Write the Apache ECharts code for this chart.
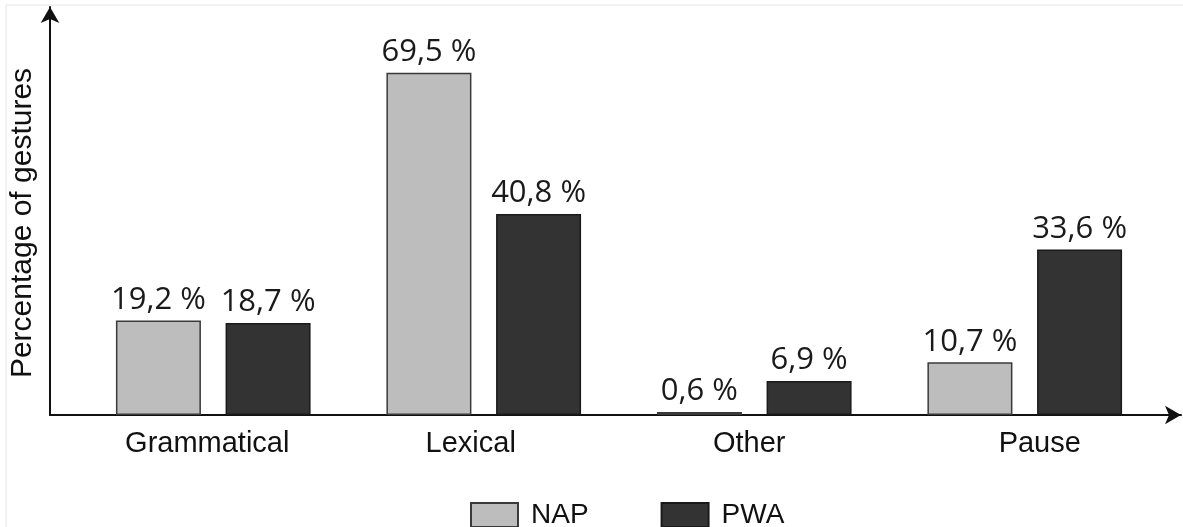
<!DOCTYPE html>
<html>
<head>
<meta charset="utf-8">
<script src="https://cdn.jsdelivr.net/npm/echarts@6/dist/echarts.min.js"></script>
<style>html,body{margin:0;padding:0;background:#fff}#c{width:1183px;height:527px}</style>
</head>
<body>
<div id="c"></div>
<script>
const categories = ['Grammatical', 'Lexical', 'Other', 'Pause'];
const napValues = [19.2, 69.5, 0.6, 10.7];
const pwaValues = [18.7, 40.8, 6.9, 33.6];
const seriesNames = ['NAP', 'PWA'];
const yTitle = 'Percentage of gestures';

// horizontal label shifts (styling only)
const labelShift = [-6, -13, -5, 15];
const catData = categories.map((c, i) => {
  const s = labelShift[i];
  return {value: c, textStyle: {padding: s < 0 ? [0, -2 * s, 0, 0] : [0, 0, 0, 2 * s]}};
});

const fmt = p => String(p.value).replace('.', ',') + ' %';
const chart = echarts.init(document.getElementById('c'));
const labelStyle = {
  show: true, position: 'top', distance: 5, formatter: fmt,
  fontFamily: 'Open Sans', fontSize: 31, color: '#1a1a1a'
};
chart.setOption({
  animation: false,
  backgroundColor: '#fff',
  graphic: [{
    type: 'rect', shape: {x: 6, y: 5, width: 1300, height: 700},
    style: {fill: 'none', stroke: '#e4e4e4', lineWidth: 1}, silent: true
  }],
  legend: {
    data: seriesNames, left: 465, top: 496, icon: 'rect',
    itemWidth: 47, itemHeight: 24, itemGap: 72,
    textStyle: {fontFamily: 'Liberation Sans', fontSize: 28, color: '#111', padding: [0, 0, 0, 8]}
  },
  grid: [
    {left: 49, right: 2, top: 7, bottom: 112},
    {left: 78, right: 23, top: 21, bottom: 112}
  ],
  xAxis: [
    {gridIndex: 0, type: 'value', min: 0, max: 1,
     axisLine: {show: true, lineStyle: {color: '#111', width: 2}, symbol: ['none', 'arrow'], symbolSize: [14, 16]},
     axisTick: {show: false}, axisLabel: {show: false}, splitLine: {show: false}},
    {gridIndex: 1, type: 'category', data: catData,
     axisLine: {show: false}, axisTick: {show: false},
     axisLabel: {margin: 14, fontFamily: 'Liberation Sans', fontSize: 29, color: '#111'}}
  ],
  yAxis: [
    {gridIndex: 0, type: 'value', min: 0, max: 1,
     name: yTitle, nameLocation: 'middle', nameGap: 12,
     nameTextStyle: {fontFamily: 'Liberation Sans', fontSize: 30, color: '#111', padding: [0, 24, 0, 0]},
     axisLine: {show: true, lineStyle: {color: '#111', width: 2}, symbol: ['none', 'arrow'], symbolSize: [14, 16]},
     axisTick: {show: false}, axisLabel: {show: false}, splitLine: {show: false}},
    {gridIndex: 1, type: 'value', min: 0, max: 80, show: false, splitLine: {show: false}}
  ],
  series: [
    {name: seriesNames[0], type: 'bar', xAxisIndex: 1, yAxisIndex: 1, data: napValues,
     barWidth: 85, barGap: '29%',
     itemStyle: {color: '#bdbdbd', borderColor: '#3a3a3a', borderWidth: 1.5},
     label: labelStyle},
    {name: seriesNames[1], type: 'bar', xAxisIndex: 1, yAxisIndex: 1, data: pwaValues,
     barWidth: 85, barGap: '29%',
     itemStyle: {color: '#333333', borderColor: '#1a1a1a', borderWidth: 1.5},
     label: labelStyle}
  ]
});
</script>
</body>
</html>
